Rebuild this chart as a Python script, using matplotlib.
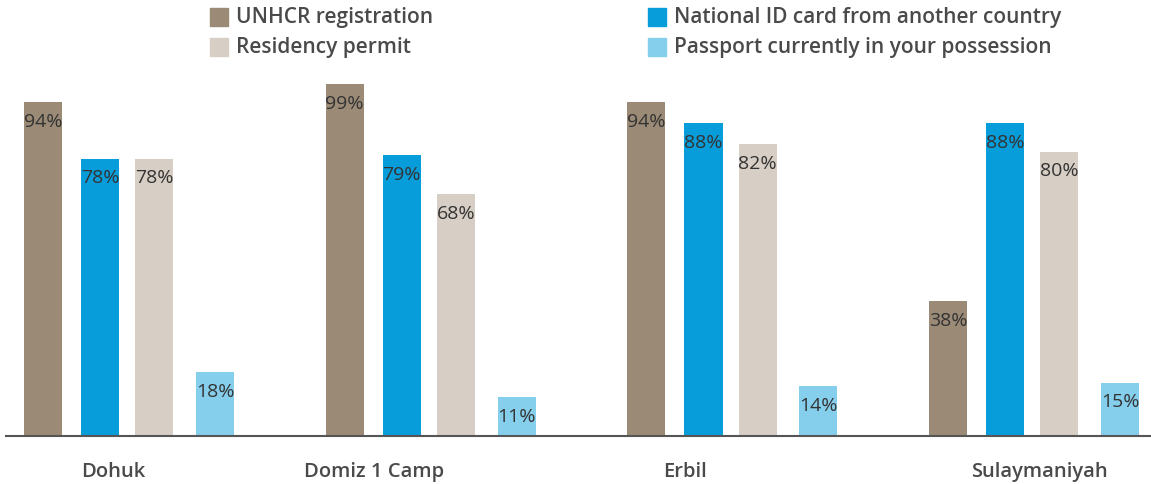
import numpy as np
import matplotlib
matplotlib.use("Agg")
import matplotlib.pyplot as plt
from matplotlib.patches import Rectangle

# Data
regions = ["Dohuk", "Domiz 1 Camp", "Erbil", "Sulaymaniyah"]
series = ["UNHCR registration", "National ID card from another country",
          "Residency permit", "Passport currently in your possession"]
unhcr = [94, 99, 94, 38]
national_id = [78, 79, 88, 88]
residency = [78, 68, 82, 80]
passport = [18, 11, 14, 15]

colors = ["#9a8a76", "#079dda", "#d7cec5", "#85ceec"]
text_col = "#4a4a4a"
val_col = "#333333"

plt.rcParams['font.family'] = ['Open Sans', 'DejaVu Sans']

fig = plt.figure(figsize=(11.51, 4.85), dpi=100)
ax = fig.add_axes([0.0052, 0.099, 0.9948, 0.733])

# bar offsets inside a group (group spacing = 1)
offsets = [0.0, 0.189, 0.368, 0.570]
width = 0.126
x = np.arange(len(regions))

for j, vals in enumerate([unhcr, national_id, residency, passport]):
    pos = x + offsets[j]
    ax.bar(pos, vals, width=width, color=colors[j], linewidth=0)
    for p, v in zip(pos, vals):
        ax.annotate(f"{v}%", (p, v), xytext=(0, -7), textcoords="offset points",
                    ha="center", va="top", fontsize=14, color=val_col)

ax.set_xlim(-0.1226, 3.672)
ax.set_ylim(0, 100)

# category labels sit a bit off the group centres in the original
label_shift = [0.232, 0.097, 0.128, 0.301]
ax.set_xticks(x + np.array(label_shift))
ax.set_xticklabels(regions, fontsize=14.5, fontweight="semibold", color=text_col)
ax.tick_params(axis="x", length=0, pad=18)
ax.set_yticks([])

for s in ["top", "right", "left"]:
    ax.spines[s].set_visible(False)
ax.spines["bottom"].set_color("#555555")
ax.spines["bottom"].set_linewidth(1.5)

# legend, two columns at the top
leg_x = [210 / 1151, 648 / 1151]
leg_y = [1 - 18 / 485, 1 - 48 / 485]
order = [(0, 0), (1, 0), (0, 1), (1, 1)]  # (col, row) for each series
sq_w, sq_h = 18 / 1151, 18 / 485
for j, (c, r) in enumerate(order):
    fig.patches.append(Rectangle((leg_x[c], leg_y[r] - sq_h / 2), sq_w, sq_h,
                                 transform=fig.transFigure, color=colors[j]))
    fig.text(leg_x[c] + 26 / 1151, leg_y[r], series[j], fontsize=15,
             fontweight="semibold", color=text_col, va="center", ha="left")

fig.savefig("out.png", dpi=100, facecolor="white")
